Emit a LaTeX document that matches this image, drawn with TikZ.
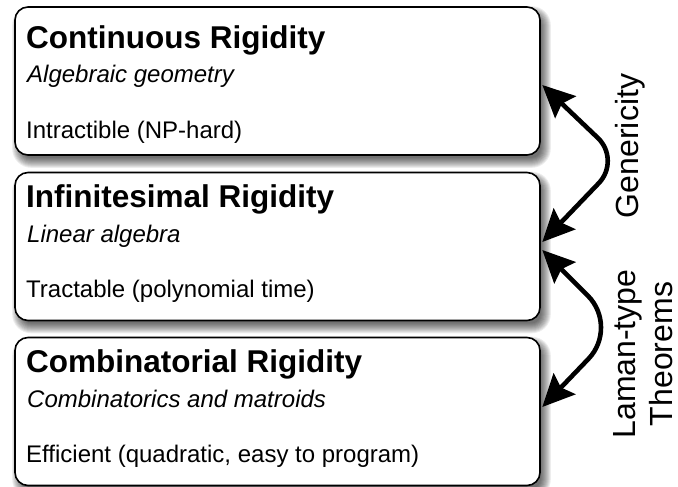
\documentclass[tikz,border=0pt]{standalone}
\usepackage{fontspec}
\setmainfont{Liberation Sans}
\usetikzlibrary{arrows.meta,calc}
\pgfdeclarelayer{bg}
\pgfsetlayers{bg,main}
\tikzset{
  box/.style={rectangle, draw=black, line width=1.6pt, fill=white, rounded corners=13pt,
    minimum width=525pt, minimum height=148pt, inner sep=0pt},
  ttl/.style={anchor=base west, inner sep=0pt, font=\bfseries\fontsize{31.5}{36}\selectfont},
  sub/.style={anchor=base west, inner sep=0pt, font=\itshape\fontsize{24}{28}\selectfont},
  bod/.style={anchor=base west, inner sep=0pt, font=\fontsize{24}{28}\selectfont},
  side/.style={rotate=90, inner sep=0pt, align=center, font=\fontsize{32}{37}\selectfont},
  arr/.style={line width=4.6pt, line join=round,
    {Stealth[length=32pt,width=30pt,inset=5pt]}-{Stealth[length=32pt,width=30pt,inset=5pt]}},
  shadowlayer/.style={fill=black, fill opacity=0.07},
}
\begin{document}
\begin{tikzpicture}[x=1pt,y=-1pt]
\useasboundingbox (0,0) rectangle (678,487);

% boxes
\node[box] (b1) at (277.5,81) {};
\node[box] (b2) at (277.5,246.5) {};
\node[box] (b3) at (277.5,411.5) {};

% shadows
\begin{pgfonlayer}{bg}
\foreach \b in {b1,b2,b3}{
  \foreach \k in {0,...,10}{
    \pgfmathsetmacro\e{-4+\k}
    \pgfmathsetmacro\r{13+\e}
    \fill[shadowlayer, rounded corners=\r pt]
      ($(\b.north west)+(4-\e,6-\e)$) rectangle ($(\b.south east)+(4+\e,6+\e)$);
  }
}
\end{pgfonlayer}

% texts
\node[ttl] (t1) at (26,49) {Continuous Rigidity};
\node[sub] (s1) at (27,83) {Algebraic geometry};
\node[bod] (c1) at (26,139) {Intractible (NP-hard)};

\node[ttl] (t2) at (26,207) {Infinitesimal Rigidity};
\node[sub] (s2) at (27,242) {Linear algebra};
\node[bod] (c2) at (26,297) {Tractable (polynomial time)};

\node[ttl] (t3) at (26,372) {Combinatorial Rigidity};
\node[sub] (s3) at (27,407) {Combinatorics and matroids};
\node[bod] (c3) at (26,462) {Efficient (quadratic, easy to program)};

% arrows
\coordinate (g1) at ([xshift=1.5pt,yshift=-4pt]b1.east);
\coordinate (g2) at ([xshift=1.5pt,yshift=4.5pt]b2.east);
\coordinate (ga) at (621,160);
\draw[arr, rounded corners=32pt] (g1) -- (ga) -- (g2);

\coordinate (l1) at ([xshift=1.5pt,yshift=-3.5pt]b2.east);
\coordinate (l2) at ([xshift=1.5pt,yshift=4.5pt]b3.east);
\coordinate (la) at (619,327);
\draw[arr, rounded corners=44pt] (l1) -- (la) -- (l2);

% side labels
\node[side] (gen) at (630,146) {Genericity};
\node[side] (lam) at (643,354) {Laman-type\\Theorems};
\end{tikzpicture}
\end{document}
